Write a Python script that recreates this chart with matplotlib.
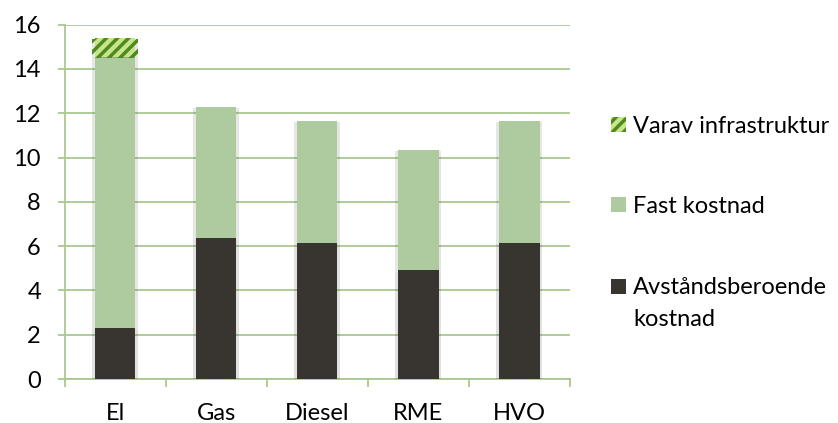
import matplotlib.pyplot as plt
import matplotlib.patheffects as pe
from matplotlib.patches import Rectangle
from matplotlib.ticker import FixedLocator
import numpy as np

categories = ['El', 'Gas', 'Diesel', 'RME', 'HVO']
avstand = [2.3, 6.35, 6.15, 4.9, 6.15]
fast = [12.25, 5.95, 5.5, 5.45, 5.5]
infra = [0.85, 0, 0, 0, 0]

plt.rcParams['font.family'] = ['Lato', 'DejaVu Sans']
plt.rcParams['hatch.linewidth'] = 2.5

grid_col = '#A9C88F'
dark = '#383430'
light = '#AECB9F'
hatch_face = '#C8E48E'
hatch_col = '#4E8A1C'

W, H = 838, 423
fig = plt.figure(figsize=(W / 100, H / 100), dpi=100)
ax = fig.add_axes([64.5 / W, 1 - 379 / H, 505.5 / W, 354.3 / H])

x = np.arange(len(categories))
w = 0.4
# soft grey halo on both sides of each bar
shadow = [pe.SimplePatchShadow(offset=(2, -1), alpha=0.12),
          pe.SimplePatchShadow(offset=(-2, -1), alpha=0.12),
          pe.Normal()]

b1 = ax.bar(x, avstand, w, color=dark, zorder=3)
bottom2 = np.array(avstand)
b2 = ax.bar(x, fast, w, bottom=bottom2, color=light, zorder=3)
bottom3 = bottom2 + np.array(fast)
b3 = ax.bar(x[:1], infra[:1], w, bottom=bottom3[:1], facecolor=hatch_face,
            edgecolor=hatch_col, linewidth=0, hatch='///', zorder=3)
for bars in (b1, b2, b3):
    for p in bars:
        p.set_path_effects(shadow)

ax.set_xlim(-0.5, 4.5)
ax.set_ylim(0, 16)
ax.set_yticks(range(0, 17, 2))
ax.set_xticks(x)
ax.set_xticklabels(categories)
ax.xaxis.set_minor_locator(FixedLocator(np.arange(-0.5, 4.6, 1)))
ax.tick_params(axis='x', which='major', length=0, pad=17, labelsize=17)
ax.tick_params(axis='x', which='minor', length=6, color=grid_col, width=1.3)
ax.tick_params(axis='y', length=5, color=grid_col, width=1.3, labelsize=17, pad=12)
ax.yaxis.grid(True, color=grid_col, linewidth=1.3, zorder=0)
ax.set_axisbelow(True)
for s in ['top', 'right']:
    ax.spines[s].set_visible(False)
for s in ['left', 'bottom']:
    ax.spines[s].set_color(grid_col)
    ax.spines[s].set_linewidth(1.3)

# legend drawn by hand: square key + label, first line level with the key
legend_items = [
    ('Varav infrastruktur', 124.5, dict(facecolor=hatch_face, edgecolor=hatch_col, linewidth=0, hatch='///')),
    ('Fast kostnad', 204.5, dict(facecolor=light, linewidth=0)),
    ('Avståndsberoende', 286, dict(facecolor=dark, linewidth=0)),
]
for label, yc, style in legend_items:
    fig.add_artist(Rectangle((611 / W, 1 - (yc + 7.5) / H), 15 / W, 15 / H,
                             transform=fig.transFigure, **style))
    fig.text(633 / W, 1 - yc / H, label, fontsize=17, va='center_baseline', ha='left')
fig.text(633 / W, 1 - 318 / H, 'kostnad', fontsize=17, va='center_baseline', ha='left')

fig.savefig('out.png', dpi=100)
